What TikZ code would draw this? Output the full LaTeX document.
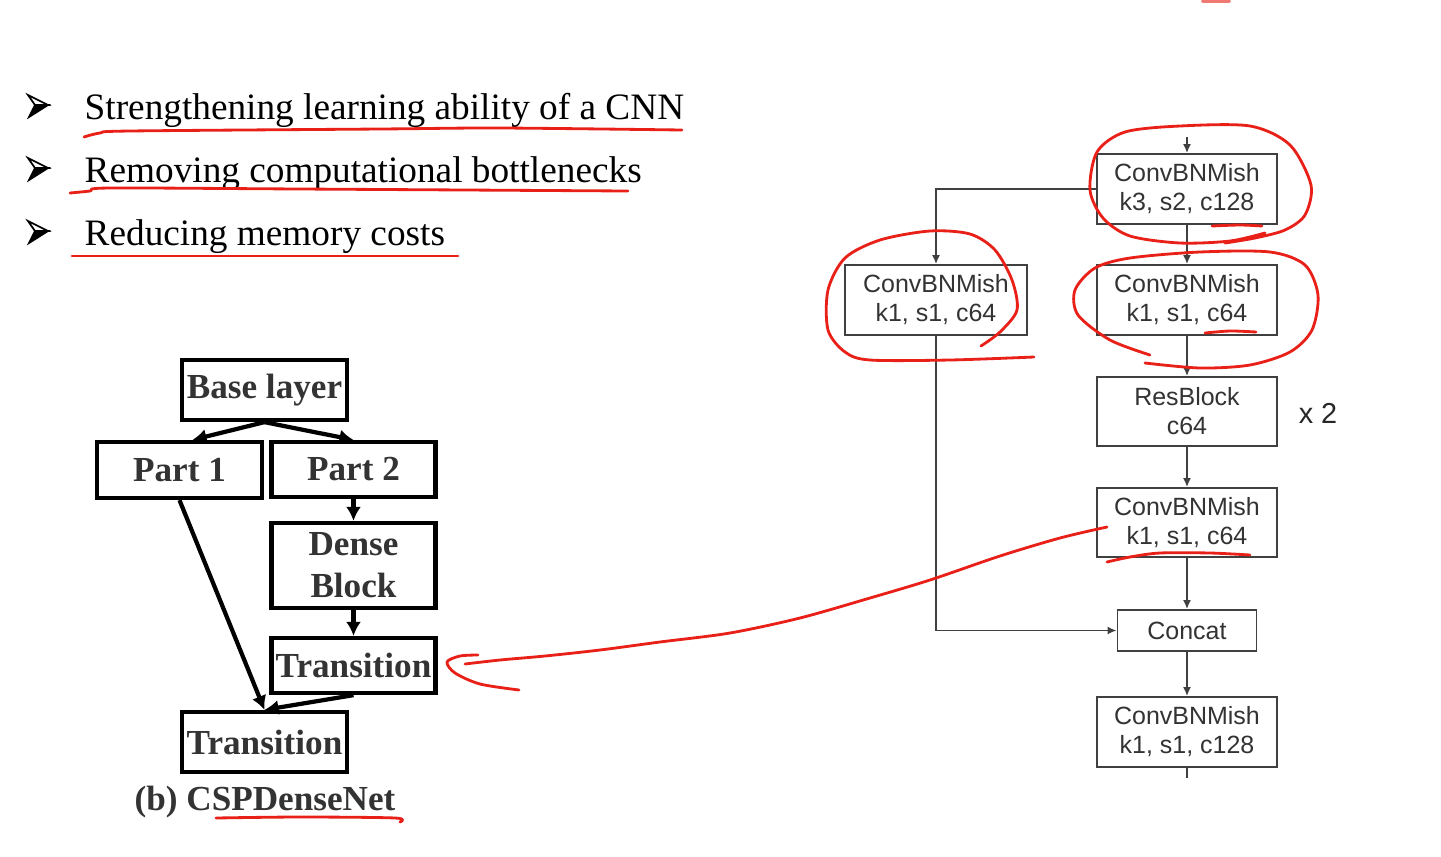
\documentclass[tikz,border=0pt]{standalone}
\usepackage{fontspec}
\setmainfont{Liberation Serif}
\newfontfamily\arialf{Liberation Sans}
\usetikzlibrary{arrows.meta,positioning,calc}
\definecolor{ink}{RGB}{232,32,24}

\begin{document}
\begin{tikzpicture}[x=0.01cm, y=-0.01cm,
  item/.style={anchor=base west, inner sep=0pt, font=\fontsize{10.6}{13}\selectfont},
  arm/.style={draw, line width=0.5pt, line join=miter},
  blk/.style={draw, line width=1.2pt, minimum width=1.64cm, minimum height=0.57cm,
              inner sep=0pt, align=center, text=black!80,
              font=\fontsize{10}{12}\selectfont\bfseries},
  cbox/.style={draw=black!75, line width=0.5pt, minimum width=1.8cm, minimum height=0.7cm,
               inner sep=0pt, align=center, text=black!80,
               font=\arialf\fontsize{7.1}{8.25}\selectfont},
  thk/.style={-{Latex[length=1.4mm,width=1.5mm]}, line width=1.2pt},
  thn/.style={-{Latex[length=0.9mm,width=0.8mm]}, draw=black!75, line width=0.5pt},
  pen/.style={ink, line width=0.8pt, line cap=round, line join=round}
]
\useasboundingbox (0,0) rectangle (1441,857);

% bullet list
\draw[arm] (28,95) -- (48,105) -- (35,105) -- cycle;
\draw[arm, fill] (35,105) -- (48,105) -- (29,117) -- cycle;
\draw[arm] (28,158) -- (48,168) -- (35,168) -- cycle;
\draw[arm, fill] (35,168) -- (48,168) -- (29,180) -- cycle;
\draw[arm] (28,221) -- (48,231) -- (35,231) -- cycle;
\draw[arm, fill] (35,231) -- (48,231) -- (29,243) -- cycle;
\node[item] (t1) at (84,119) {Strengthening learning ability of a CNN};
\node[item] (t2) at (84,182) {Removing computational bottlenecks};
\node[item] (t3) at (84,245) {Reducing memory costs};

% CSPDenseNet
\node[blk, minimum width=1.65cm, minimum height=0.6cm] (base) at (264.5,390) {Base layer};
\node[blk, minimum width=1.65cm, minimum height=0.56cm] (p1) at (179.5,470) {Part 1};
\node[blk, minimum height=0.55cm] (p2) at (353.5,469.5) {Part 2};
\node[blk, minimum height=0.85cm] (dense) at (353.5,565.5) {Dense\\Block};
\node[blk, minimum height=0.55cm] (tr1) at (353.5,665.5) {Transition};
\node[blk, minimum width=1.65cm, minimum height=0.6cm] (tr2) at (264.5,742) {Transition};
\node[text=black!80, font=\fontsize{10}{12}\selectfont\bfseries] (cap) at (265,802) {(b) CSPDenseNet};

\draw[thk] (base.south) -- ($(p1.north)+(13,0)$);
\draw[thk] (base.south) -- (p2.north);
\draw[thk] (p2.south) -- (dense.north);
\draw[thk] (dense.south) -- (tr1.north);
\draw[thk] (p1.south) -- (tr2.north);
\draw[thk] (tr1.south) -- (tr2.north);

% CSP stage
\coordinate (in) at (1187,137);
\coordinate (out) at (1187,778);
\node[cbox] (c1) at (1187,189) {ConvBNMish\\k3, s2, c128};
\node[cbox, minimum width=1.82cm] (c2) at (936,300) {ConvBNMish\\k1, s1, c64};
\node[cbox] (c3) at (1187,300) {ConvBNMish\\k1, s1, c64};
\node[cbox, minimum height=0.69cm] (rb) at (1187,411.5) {ResBlock\\c64};
\node[cbox, minimum height=0.69cm] (c4) at (1187,522.5) {ConvBNMish\\k1, s1, c64};
\node[cbox, minimum width=1.39cm, minimum height=0.41cm] (cat) at (1187,630.5) {Concat};
\node[cbox] (c5) at (1187,732) {ConvBNMish\\k1, s1, c128};
\node[text=black!85, font=\arialf\fontsize{8.2}{10}\selectfont] (rep) at (1318,413) {x 2};

\draw[thn] (in) -- (c1);
\draw[thn] (c1.west) -| (c2.north);
\draw[thn] (c1) -- (c3);
\draw[thn] (c3) -- (rb);
\draw[thn] (rb) -- (c4);
\draw[thn] (c4) -- (cat);
\draw[thn] (c2.south) |- (cat.west);
\draw[thn] (cat) -- (c5);
\draw[draw=black!75, line width=0.5pt] (c5.south) -- (out);

% red pen marks
\draw[pen] plot[smooth] coordinates {(84,137) (100,133) (130,131) (380,129) (500,128) (682,130)};
\draw[pen] plot[smooth] coordinates {(70,193) (90,191) (110,188) (300,189) (628,191)};
\draw[pen] plot[smooth] coordinates {(72,256) (250,256) (458,256)};
\draw[pen] plot[smooth] coordinates {(1265,233) (1230,241) (1180,243) (1130,236) (1103,218)
  (1090,190) (1097,152) (1125,132) (1180,126) (1250,126) (1290,145) (1311,185) (1305,215)
  (1285,230) (1255,238) (1225,243)};
\draw[pen] plot[smooth] coordinates {(1212,226) (1240,225) (1262,226)};
\draw[pen] plot[smooth] coordinates {(981,346) (1000,332) (1017,310) (1012,280) (995,250)
  (970,234) (930,231) (880,240) (845,258) (828,290) (828,330) (845,352) (870,360) (950,360)
  (1034,357)};
\draw[pen] plot[smooth] coordinates {(1150,355) (1110,340) (1078,315) (1075,290) (1095,268)
  (1130,258) (1200,252) (1270,252) (1305,265) (1318,295) (1312,330) (1290,352) (1250,365)
  (1200,368) (1145,363)};
\draw[pen] plot[smooth] coordinates {(1205,333) (1230,331) (1256,332)};
\draw[pen] plot[smooth] coordinates {(1107,527) (1060,538) (1000,556) (930,580) (870,598)
  (800,618) (730,633) (660,642) (600,650) (545,656) (500,660) (465,664)};
\draw[pen] plot[smooth] coordinates {(478,655) (460,656) (447,662) (455,673) (480,684) (519,690)};
\draw[pen] plot[smooth] coordinates {(1107,562) (1130,557) (1160,553) (1210,553) (1250,555)};
\draw[pen] plot[smooth] coordinates {(216,818) (300,817) (395,818) (400,822)};
\draw[pen, opacity=0.6, line width=1pt] (1203,1) -- (1229,1);
\end{tikzpicture}
\end{document}
